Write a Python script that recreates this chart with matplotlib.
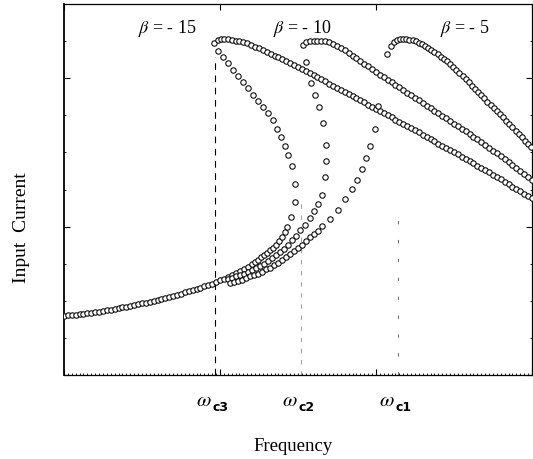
import matplotlib
matplotlib.use('Agg')
import matplotlib.pyplot as plt
from matplotlib.ticker import MultipleLocator

plt.rcParams['font.family'] = ['Liberation Serif', 'DejaVu Serif']
plt.rcParams['mathtext.fontset'] = 'stix'

# shared low-frequency branch (same for all beta)
common_f = [0.000, 0.025, 0.050, 0.075, 0.100, 0.125, 0.150, 0.175, 0.200, 0.225,
            0.250, 0.275, 0.300, 0.325, 0.350, 0.375, 0.400, 0.425, 0.450, 0.475,
            0.500, 0.525, 0.550, 0.575, 0.600, 0.625, 0.650, 0.675, 0.700, 0.725,
            0.750, 0.775, 0.800, 0.825, 0.850, 0.875, 0.900, 0.925, 0.950, 0.975]
common_i = [0.398, 0.401, 0.403, 0.406, 0.409, 0.413, 0.416, 0.420, 0.423, 0.427,
            0.431, 0.436, 0.440, 0.445, 0.450, 0.455, 0.460, 0.465, 0.470, 0.476,
            0.482, 0.488, 0.494, 0.500, 0.507, 0.513, 0.520, 0.527, 0.534, 0.542,
            0.549, 0.557, 0.564, 0.572, 0.581, 0.589, 0.597, 0.606, 0.615, 0.624]

# beta = -15 : lower branch, unstable branch up to the jump point
lower_b15 = [(1.000, 0.637), (1.026, 0.647), (1.051, 0.660), (1.077, 0.674), (1.103, 0.687),
             (1.128, 0.701), (1.154, 0.714), (1.179, 0.731), (1.205, 0.748), (1.224, 0.761),
             (1.244, 0.775), (1.263, 0.792), (1.282, 0.809), (1.301, 0.825), (1.321, 0.842),
             (1.340, 0.859), (1.359, 0.879), (1.378, 0.903), (1.397, 0.930), (1.417, 0.964),
             (1.429, 0.997), (1.455, 1.065), (1.484, 1.166), (1.481, 1.287), (1.462, 1.408),
             (1.436, 1.482), (1.417, 1.543), (1.391, 1.604), (1.365, 1.658), (1.340, 1.718),
             (1.308, 1.765), (1.276, 1.806), (1.244, 1.846), (1.212, 1.887), (1.179, 1.934),
             (1.147, 1.974), (1.115, 2.015), (1.083, 2.055), (1.051, 2.102), (1.019, 2.143),
             (0.987, 2.183)]
upper_b15 = [(0.965, 2.240), (0.985, 2.258), (1.005, 2.264), (1.025, 2.266),
             (1.050, 2.264), (1.075, 2.259), (1.100, 2.254), (1.125, 2.249), (1.150, 2.242),
             (1.175, 2.234), (1.200, 2.224), (1.225, 2.213), (1.250, 2.202), (1.275, 2.190),
             (1.300, 2.177), (1.325, 2.165), (1.350, 2.153), (1.375, 2.141), (1.400, 2.129),
             (1.425, 2.116), (1.450, 2.103), (1.475, 2.090), (1.500, 2.076), (1.525, 2.062),
             (1.550, 2.049), (1.575, 2.036), (1.600, 2.022), (1.625, 2.008), (1.650, 1.993),
             (1.675, 1.978), (1.700, 1.963), (1.725, 1.947), (1.750, 1.933), (1.775, 1.919),
             (1.800, 1.906), (1.825, 1.892), (1.850, 1.878), (1.875, 1.865), (1.900, 1.851),
             (1.925, 1.837), (1.950, 1.822), (1.975, 1.808), (2.000, 1.794), (2.025, 1.779),
             (2.050, 1.765), (2.075, 1.750), (2.100, 1.736), (2.125, 1.721), (2.150, 1.707),
             (2.175, 1.693), (2.200, 1.678), (2.225, 1.664), (2.250, 1.649), (2.275, 1.635),
             (2.300, 1.620), (2.325, 1.605), (2.350, 1.590), (2.375, 1.575), (2.400, 1.560),
             (2.425, 1.545), (2.450, 1.531), (2.475, 1.516), (2.500, 1.501), (2.525, 1.486),
             (2.550, 1.471), (2.575, 1.456), (2.600, 1.441), (2.625, 1.426), (2.650, 1.411),
             (2.675, 1.396), (2.700, 1.381), (2.725, 1.366), (2.750, 1.350), (2.775, 1.334),
             (2.800, 1.318), (2.825, 1.302), (2.850, 1.286), (2.875, 1.270), (2.900, 1.254),
             (2.925, 1.238), (2.950, 1.222), (2.975, 1.206), (3.000, 1.190)]

# beta = -10
lower_b10 = [(1.051, 0.644), (1.077, 0.654), (1.103, 0.664), (1.128, 0.674), (1.154, 0.684),
             (1.179, 0.694), (1.205, 0.708), (1.231, 0.718), (1.256, 0.735), (1.282, 0.751),
             (1.308, 0.768), (1.333, 0.788), (1.359, 0.809), (1.385, 0.829), (1.410, 0.852),
             (1.436, 0.879), (1.462, 0.910), (1.487, 0.940), (1.513, 0.977), (1.545, 1.011),
             (1.577, 1.058), (1.603, 1.105), (1.628, 1.152), (1.654, 1.213), (1.673, 1.334),
             (1.683, 1.442), (1.679, 1.550), (1.660, 1.698), (1.635, 1.806), (1.609, 1.887),
             (1.583, 1.968), (1.551, 2.109)]
upper_b10 = [(1.530, 2.225), (1.550, 2.242), (1.575, 2.249), (1.600, 2.253), (1.625, 2.254),
             (1.650, 2.253), (1.675, 2.250), (1.700, 2.243), (1.725, 2.230), (1.750, 2.217),
             (1.775, 2.204), (1.800, 2.190), (1.825, 2.172), (1.850, 2.153), (1.875, 2.134),
             (1.900, 2.115), (1.925, 2.097), (1.950, 2.079), (1.975, 2.061), (2.000, 2.043),
             (2.025, 2.025), (2.050, 2.008), (2.075, 1.990), (2.100, 1.973), (2.125, 1.955),
             (2.150, 1.938), (2.175, 1.920), (2.200, 1.902), (2.225, 1.885), (2.250, 1.868),
             (2.275, 1.851), (2.300, 1.833), (2.325, 1.816), (2.350, 1.798), (2.375, 1.781),
             (2.400, 1.763), (2.425, 1.746), (2.450, 1.729), (2.475, 1.711), (2.500, 1.694),
             (2.525, 1.676), (2.550, 1.659), (2.575, 1.641), (2.600, 1.623), (2.625, 1.605),
             (2.650, 1.587), (2.675, 1.568), (2.700, 1.549), (2.725, 1.531), (2.750, 1.512),
             (2.775, 1.493), (2.800, 1.474), (2.825, 1.455), (2.850, 1.436), (2.875, 1.416),
             (2.900, 1.396), (2.925, 1.376), (2.950, 1.356), (2.975, 1.336), (3.000, 1.316)]

# beta = -5
lower_b5 = [(1.064, 0.618), (1.090, 0.625), (1.115, 0.631), (1.141, 0.641), (1.167, 0.652),
            (1.192, 0.664), (1.218, 0.674), (1.244, 0.684), (1.269, 0.697), (1.295, 0.711),
            (1.321, 0.724), (1.346, 0.741), (1.372, 0.758), (1.397, 0.775), (1.423, 0.795),
            (1.449, 0.815), (1.474, 0.836), (1.500, 0.856), (1.526, 0.879), (1.551, 0.903),
            (1.577, 0.927), (1.603, 0.950), (1.628, 0.970), (1.654, 1.001), (1.705, 1.051),
            (1.756, 1.115), (1.801, 1.183), (1.846, 1.253), (1.878, 1.317), (1.910, 1.388),
            (1.936, 1.459), (1.962, 1.543), (1.994, 1.658), (2.013, 1.813), (2.071, 2.163)]
upper_b5 = [(2.097, 2.217), (2.115, 2.244), (2.135, 2.255), (2.155, 2.262), (2.175, 2.264),
            (2.195, 2.263), (2.215, 2.260), (2.235, 2.255), (2.255, 2.248), (2.275, 2.240),
            (2.295, 2.228), (2.315, 2.216), (2.335, 2.204), (2.355, 2.191), (2.375, 2.179),
            (2.395, 2.163), (2.415, 2.146), (2.435, 2.131), (2.455, 2.114), (2.475, 2.095),
            (2.495, 2.076), (2.515, 2.056), (2.535, 2.035), (2.555, 2.014), (2.575, 1.993),
            (2.595, 1.972), (2.615, 1.949), (2.635, 1.928), (2.655, 1.907), (2.675, 1.886),
            (2.695, 1.864), (2.715, 1.843), (2.735, 1.822), (2.755, 1.801), (2.775, 1.780),
            (2.795, 1.759), (2.815, 1.737), (2.835, 1.714), (2.855, 1.692), (2.875, 1.669),
            (2.895, 1.646), (2.915, 1.624), (2.935, 1.602), (2.955, 1.580), (2.975, 1.557),
            (2.995, 1.535)]

betas = ['- 15', '- 10', '- 5']
beta_label_pos = [(0.66, 2.345), (1.53, 2.345), (2.57, 2.345)]

# critical frequencies (jump points)
omega_c = [0.968, 1.519, 2.141]
omega_names = ['c3', 'c2', 'c1']
omega_line_top = [2.14, 1.17, 1.12]
omega_line_color = ['black', '0.65', '0.45']
omega_line_dash = [(6, 5), (4, 6), (3, 14)]

fig = plt.figure(figsize=(5.33, 4.6), dpi=100)
ax = fig.add_axes([0.120, 0.1826, 0.878, 0.8065])

for x, top, c, d in zip(omega_c, omega_line_top, omega_line_color, omega_line_dash):
    ax.plot([x, x], [0, top], color=c, lw=0.8, dashes=d, zorder=1)

mk = dict(marker='o', ms=3.9, mfc='white', mec='black', mew=0.75, ls='none', zorder=3)
ax.plot(common_f, common_i, **mk)
for lower, upper in [(lower_b15, upper_b15), (lower_b10, upper_b10), (lower_b5, upper_b5)]:
    f, cur = zip(*(lower + upper))
    ax.plot(f, cur, **mk)

for b, (x, y) in zip(betas, beta_label_pos):
    ax.text(x, y, r'$\beta$ = ' + b, fontsize=13, ha='center', va='center')

# omega with a small bold sans subscript
for x, name in zip(omega_c, omega_names):
    ax.text(x - 0.07, -0.175, r'$\omega$', fontsize=15, ha='center', va='center',
            clip_on=False)
    ax.text(x + 0.035, -0.21, name, fontsize=9, family='DejaVu Sans',
            weight='bold', ha='center', va='center', clip_on=False)

ax.set_xlim(0, 3)
ax.set_ylim(0, 2.5)
ax.xaxis.set_major_locator(MultipleLocator(1))
ax.yaxis.set_major_locator(MultipleLocator(1))
ax.xaxis.set_minor_locator(MultipleLocator(0.025))
ax.yaxis.set_minor_locator(MultipleLocator(0.25))
ax.tick_params(which='both', direction='in', top=True, right=True,
               labelbottom=False, labelleft=False)
ax.tick_params(which='major', length=4, width=0.8)
ax.tick_params(which='minor', length=1.5, width=0.6)
ax.tick_params(axis='x', which='minor', top=False)
for s in ax.spines.values():
    s.set_linewidth(0.9)
ax.spines['left'].set_linewidth(1.3)

fig.text(293 / 533, 0.030, 'Frequency', fontsize=13.5, ha='center', va='center')
fig.text(22 / 533, 1 - 228 / 460, 'Input  Current', fontsize=14,
         rotation=90, ha='center', va='center')

fig.savefig('out.png', dpi=100)
